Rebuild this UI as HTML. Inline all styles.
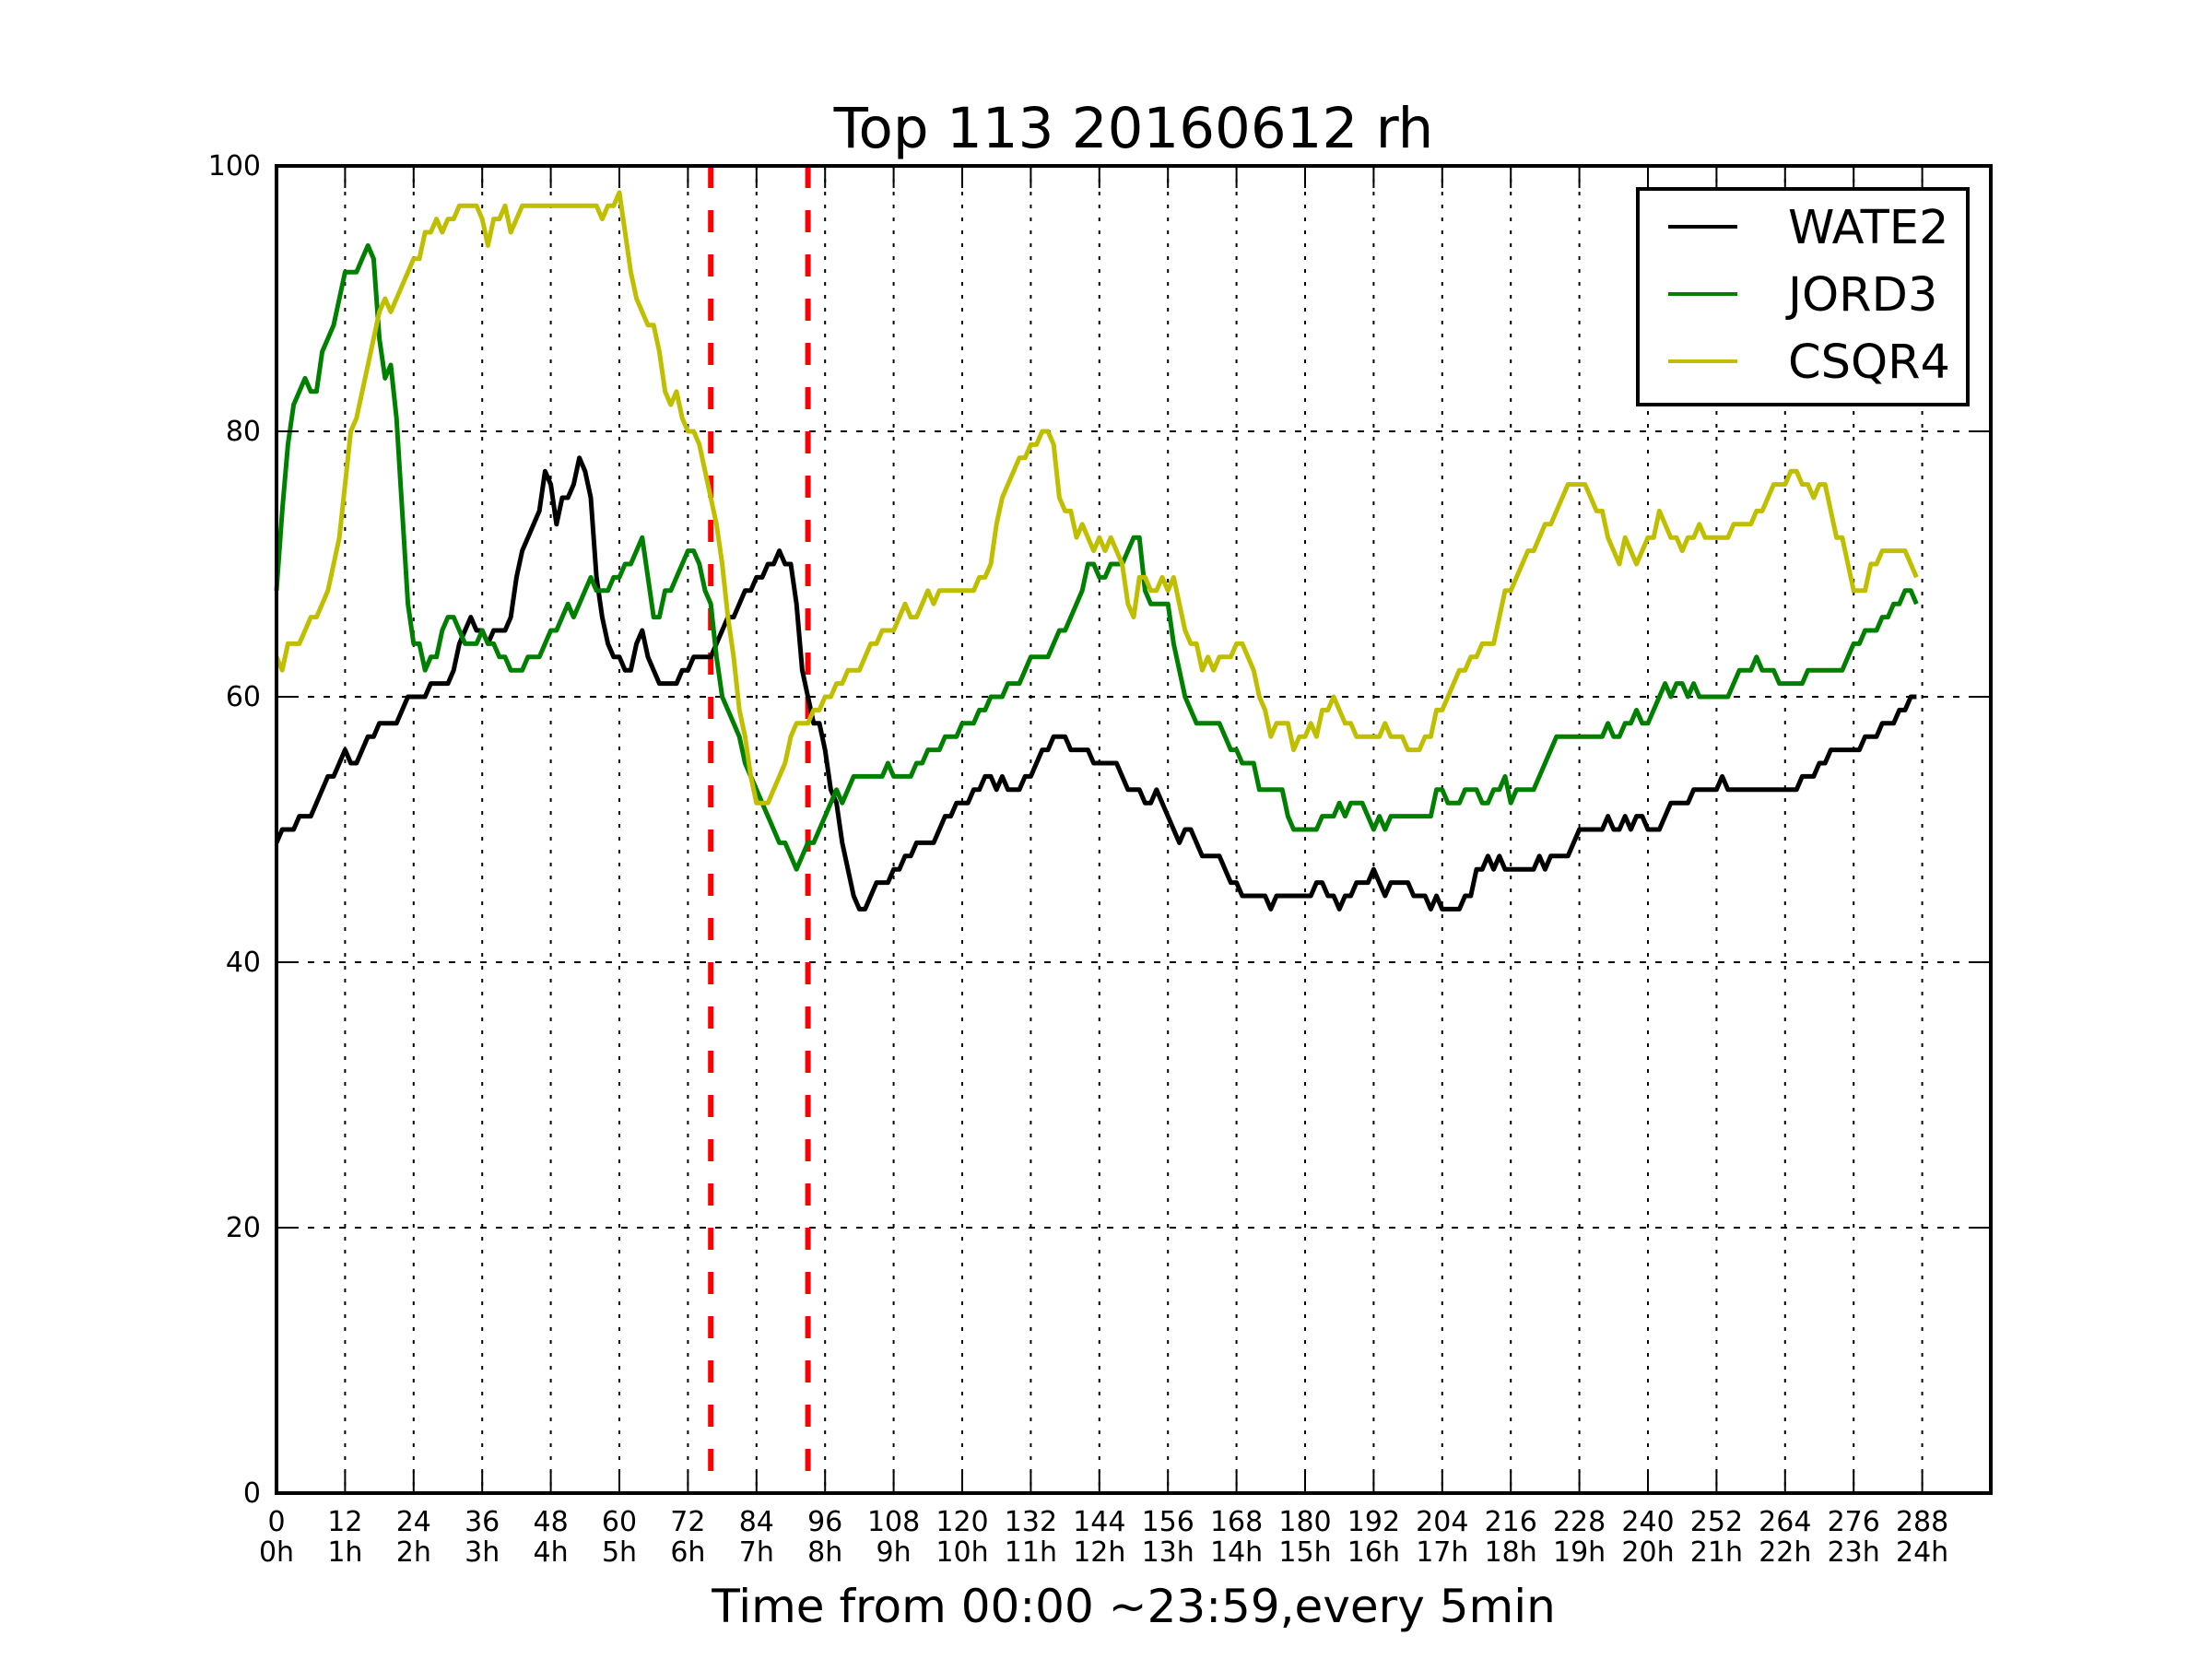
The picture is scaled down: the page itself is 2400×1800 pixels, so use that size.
<!DOCTYPE html>
<html><head><meta charset="utf-8"><style>
html,body{margin:0;padding:0;background:#fff;}
svg{display:block;font-family:"DejaVu Sans","Liberation Sans",sans-serif;}
</style></head><body>
<svg id="chart" width="2400" height="1800" viewBox="0 0 2400 1800" xmlns="http://www.w3.org/2000/svg">
<rect x="0" y="0" width="2400" height="1800" fill="#fff"/>
<text x="1230" y="160" font-size="61" text-anchor="middle">Top 113 20160612 rh</text>
<text x="1230" y="1760" font-size="50" text-anchor="middle">Time from 00:00 ~23:59,every 5min</text>
<g id="grid"></g>
<g id="vlines"></g>
<g id="series"></g>
<g id="ticks"></g>
<rect x="300" y="180" width="1860" height="1440" fill="none" stroke="#000" stroke-width="4"/>
<g>
<rect x="1777" y="205" width="358" height="234" fill="#fff" stroke="#000" stroke-width="4"/>
<line x1="1810" y1="246" x2="1885" y2="246" stroke="#000" stroke-width="4"/>
<text x="1940" y="264" font-size="51">WATE2</text>
<line x1="1810" y1="319" x2="1885" y2="319" stroke="#008000" stroke-width="4"/>
<text x="1940" y="337" font-size="51">JORD3</text>
<line x1="1810" y1="392" x2="1885" y2="392" stroke="#bfbf00" stroke-width="4"/>
<text x="1940" y="410" font-size="51">CSQR4</text>
</g>
</svg>
<script>
const xTickVals = [0,12,24,36,48,60,72,84,96,108,120,132,144,156,168,180,192,204,216,228,240,252,264,276,288];
const xTickHours = ["0h","1h","2h","3h","4h","5h","6h","7h","8h","9h","10h","11h","12h","13h","14h","15h","16h","17h","18h","19h","20h","21h","22h","23h","24h"];
const yTickVals = [0,20,40,60,80,100];
const eventMarks = [76,93];
const wate2 = [49,50,50,50,51,51,51,52,53,54,54,55,56,55,55,56,57,57,58,58,58,58,59,60,60,60,60,61,61,61,61,62,64,65,66,65,65,64,65,65,65,66,69,71,72,73,74,77,76,73,75,75,76,78,77,75,69,66,64,63,63,62,62,64,65,63,62,61,61,61,61,62,62,63,63,63,63,64,65,66,66,67,68,68,69,69,70,70,71,70,70,67,62,60,58,58,56,53,52,49,47,45,44,44,45,46,46,46,47,47,48,48,49,49,49,49,50,51,51,52,52,52,53,53,54,54,53,54,53,53,53,54,54,55,56,56,57,57,57,56,56,56,56,55,55,55,55,55,54,53,53,53,52,52,53,52,51,50,49,50,50,49,48,48,48,48,47,46,46,45,45,45,45,45,44,45,45,45,45,45,45,45,46,46,45,45,44,45,45,46,46,46,47,46,45,46,46,46,46,45,45,45,44,45,44,44,44,44,45,45,47,47,48,47,48,47,47,47,47,47,47,48,47,48,48,48,48,49,50,50,50,50,50,51,50,50,51,50,51,51,50,50,50,51,52,52,52,52,53,53,53,53,53,54,53,53,53,53,53,53,53,53,53,53,53,53,53,54,54,54,55,55,56,56,56,56,56,56,57,57,57,58,58,58,59,59,60,60];
const jord3 = [68,74,79,82,83,84,83,83,86,87,88,90,92,92,92,93,94,93,87,84,85,81,74,67,64,64,62,63,63,65,66,66,65,64,64,64,65,64,64,63,63,62,62,62,63,63,63,64,65,65,66,67,66,67,68,69,68,68,68,69,69,70,70,71,72,69,66,66,68,68,69,70,71,71,70,68,67,63,60,59,58,57,55,54,53,52,51,50,49,49,48,47,48,49,49,50,51,52,53,52,53,54,54,54,54,54,54,55,54,54,54,54,55,55,56,56,56,57,57,57,58,58,58,59,59,60,60,60,61,61,61,62,63,63,63,63,64,65,65,66,67,68,70,70,69,69,70,70,70,71,72,72,68,67,67,67,67,64,62,60,59,58,58,58,58,58,57,56,56,55,55,55,53,53,53,53,53,51,50,50,50,50,50,51,51,51,52,51,52,52,52,51,50,51,50,51,51,51,51,51,51,51,51,53,53,52,52,52,53,53,53,52,52,53,53,54,52,53,53,53,53,54,55,56,57,57,57,57,57,57,57,57,57,58,57,57,58,58,59,58,58,59,60,61,60,61,61,60,61,60,60,60,60,60,60,61,62,62,62,63,62,62,62,61,61,61,61,61,62,62,62,62,62,62,62,63,64,64,65,65,65,66,66,67,67,68,68,67];
const csqr4 = [63,62,64,64,64,65,66,66,67,68,70,72,76,80,81,83,85,87,89,90,89,90,91,92,93,93,95,95,96,95,96,96,97,97,97,97,96,94,96,96,97,95,96,97,97,97,97,97,97,97,97,97,97,97,97,97,97,96,97,97,98,95,92,90,89,88,88,86,83,82,83,81,80,80,79,77,75,73,70,66,63,59,57,54,52,52,52,53,54,55,57,58,58,58,59,59,60,60,61,61,62,62,62,63,64,64,65,65,65,66,67,66,66,67,68,67,68,68,68,68,68,68,68,69,69,70,73,75,76,77,78,78,79,79,80,80,79,75,74,74,72,73,72,71,72,71,72,71,70,67,66,69,69,68,68,69,68,69,67,65,64,64,62,63,62,63,63,63,64,64,63,62,60,59,57,58,58,58,56,57,57,58,57,59,59,60,59,58,58,57,57,57,57,57,58,57,57,57,56,56,56,57,57,59,59,60,61,62,62,63,63,64,64,64,66,68,68,69,70,71,71,72,73,73,74,75,76,76,76,76,75,74,74,72,71,70,72,71,70,71,72,72,74,73,72,72,71,72,72,73,72,72,72,72,72,73,73,73,73,74,74,75,76,76,76,77,77,76,76,75,76,76,74,72,72,70,68,68,68,70,70,71,71,71,71,71,70,69];

const NS = "http://www.w3.org/2000/svg";
const X0 = 300, X1 = 2160, Y0 = 1620, Y1 = 180, XMAX = 300, YMAX = 100;
function xs(v){ return X0 + v * (X1 - X0) / XMAX; }
function ys(v){ return Y0 - v * (Y0 - Y1) / YMAX; }
function mk(tag, attrs, parent){
  const el = document.createElementNS(NS, tag);
  for (const k in attrs) el.setAttribute(k, attrs[k]);
  parent.appendChild(el);
  return el;
}
const grid = document.getElementById('grid');
const ticks = document.getElementById('ticks');
xTickVals.forEach((v, i) => {
  const x = xs(v);
  const g = mk('line', {x1:x, y1:Y1, x2:x, y2:Y0, stroke:'#000', 'stroke-width':2, 'stroke-dasharray':'4,10'}, grid);
  
  
  const t1 = mk('line', {x1:x, y1:Y0, x2:x, y2:Y0-24, stroke:'#000', 'stroke-width':2}, ticks);
  
  
  const t2 = mk('line', {x1:x, y1:Y1, x2:x, y2:Y1+24, stroke:'#000', 'stroke-width':2}, ticks);
  
  
  const l1 = mk('text', {x:x, y:1661, 'font-size':30, 'text-anchor':'middle'}, ticks);
  l1.textContent = String(v);
  
  
  const l2 = mk('text', {x:x, y:1694, 'font-size':30, 'text-anchor':'middle'}, ticks);
  l2.textContent = xTickHours[i];
  
  
});
yTickVals.forEach(v => {
  const y = ys(v);
  if (v > 0 && v < 100) {
    const g = mk('line', {x1:X0, y1:y, x2:X1, y2:y, stroke:'#000', 'stroke-width':2, 'stroke-dasharray':'7,10'}, grid);
    
    
  }
  const t1 = mk('line', {x1:X0, y1:y, x2:X0+24, y2:y, stroke:'#000', 'stroke-width':2}, ticks);
  
  
  const t2 = mk('line', {x1:X1, y1:y, x2:X1-24, y2:y, stroke:'#000', 'stroke-width':2}, ticks);
  
  
  const l = mk('text', {x:283, y:y+10, 'font-size':30, 'text-anchor':'end'}, ticks);
  l.textContent = String(v);
  
  
});
const vl = document.getElementById('vlines');
eventMarks.forEach(v => {
  const ln = mk('line', {x1:xs(v), y1:Y1, x2:xs(v), y2:Y0, stroke:'#ff0000', 'stroke-width':6, 'stroke-dasharray':'24,24'}, vl);
  
  
});
const sg = document.getElementById('series');
function drawSeries(data, color, name){
  const pts = data.map((v, i) => xs(i).toFixed(1) + ',' + ys(v).toFixed(1)).join(' ');
  const p = mk('polyline', {points:pts, fill:'none', stroke:color, 'stroke-width':5, 'stroke-linejoin':'round'}, sg);
  
  
}
drawSeries(wate2, '#000000', 'wate2-line');
drawSeries(jord3, '#008000', 'jord3-line');
drawSeries(csqr4, '#bfbf00', 'csqr4-line');
</script>
</body></html>
